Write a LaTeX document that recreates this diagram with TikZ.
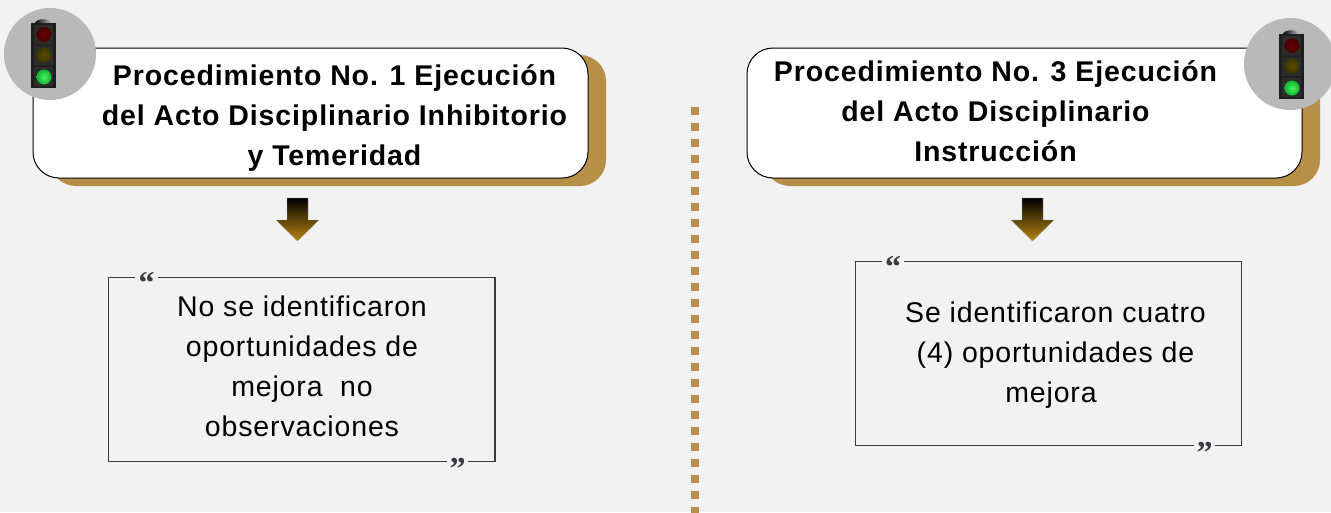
\documentclass[tikz,border=0pt]{standalone}
\usepackage{fontspec}
\setmainfont{Liberation Sans}
\newfontfamily\headfont[LetterSpace=3.1]{Liberation Sans Bold}
\newfontfamily\bodyfont[LetterSpace=3.0]{Liberation Sans}
\newfontfamily\quotefont{Liberation Serif Bold}
\definecolor{bg}{HTML}{F2F2F2}
\definecolor{gold}{HTML}{B88F47}
\definecolor{disc}{HTML}{B9B9B9}
\definecolor{arrowgold}{HTML}{B8860F}
\definecolor{framecol}{HTML}{3A3A42}
\definecolor{postbody}{HTML}{1E1E1E}
\definecolor{postcell}{HTML}{2C2C2C}
\definecolor{greenin}{HTML}{48F068}
\definecolor{greenout}{HTML}{0FB52D}
\tikzset{
  x=1pt,y=-1pt,
  card/.style={draw=black,line width=1pt,fill=white,rounded corners=26pt,minimum width=555pt,minimum height=130pt,inner sep=0pt},
  shadowbox/.style={fill=gold,rounded corners=26pt,minimum width=556pt,minimum height=131pt,inner sep=0pt},
  headtext/.style={align=center,inner sep=0pt,font=\headfont\fontsize{28.5}{40}\selectfont},
  bodytext/.style={align=center,inner sep=0pt,font=\bodyfont\fontsize{28.5}{40}\selectfont},
  disccircle/.style={circle,fill=disc,minimum size=92pt,inner sep=0pt},
  framebox/.style={draw=framecol,line width=1.2pt},
  quotemark/.style={inner sep=0pt,text=framecol,font=\quotefont\fontsize{32}{32}\selectfont,anchor=base},
  downarrow/.style={draw=gray!70,line width=.4pt,top color=black,bottom color=arrowgold,shading angle=0},
  golddot/.style={fill=gold},
}
\newcommand{\lightpost}[2]{%
  \begin{scope}[shift={(#1,#2)}]
    \shade[left color=black,right color=gray!40] (4,5) .. controls (6,0) and (18,0) .. (21,5) -- cycle;
    \fill[postbody] (0,5) rectangle (25,70);
    \fill[postcell] (3,7) rectangle (22,26.5) (3,27.5) rectangle (22,47) (3,48.5) rectangle (22,68);
    \shade[inner color=red!40!black,outer color=red!28!black] (13,16.5) circle (7.5);
    \shade[inner color=yellow!32!black!90!red,outer color=yellow!22!black] (13,37) circle (7.5);
    \shade[inner color=greenin,outer color=greenout] (13,59) circle (7.5);
  \end{scope}}
\begin{document}
\begin{tikzpicture}
\useasboundingbox (0,0) rectangle (1331,512);
\fill[bg] (0,0) rectangle (1331,512);
% left card
\node[shadowbox] (shadowA) at (328,120.5) {};
\node[card] (cardA) at (310.5,113) {};
\node[headtext] (headA) at (334.5,118) {Procedimiento No. 1 Ejecución\\del Acto Disciplinario Inhibitorio\\y Temeridad};
\node[disccircle] (discA) at (50,54) {};
\lightpost{31}{18}
% right card
\node[shadowbox] (shadowB) at (1042,120.5) {};
\node[card] (cardB) at (1024.5,113) {};
\node[headtext] (headB) at (995.5,111) {Procedimiento No. 3 Ejecución\\del Acto Disciplinario\\Instrucción};
\node[disccircle] (discB) at (1290,64) {};
\lightpost{1279}{29}
% arrows
\path[downarrow] (287,198) -- (308,198) -- (308,220) -- (319,220) -- (297.5,241) -- (276,220) -- (287,220) -- cycle;
\path[downarrow] (1022,198) -- (1043,198) -- (1043,220) -- (1054,220) -- (1032.5,241) -- (1011,220) -- (1022,220) -- cycle;
% left frame
\draw[framebox] (135,277.5) -- (108.5,277.5) -- (108.5,461.5) -- (447,461.5);
\draw[framebox] (158,277.5) -- (495,277.5) -- (495,461.5) -- (468,461.5);
\node[quotemark] (openA) at (146.5,293.5) {“};
\node[quotemark] (closeA) at (457.5,479.5) {”};
\node[bodytext] (textA) at (302,366) {No se identificaron\\oportunidades de\\mejora\ \ no\\observaciones};
% right frame
\draw[framebox] (882,261.5) -- (855.5,261.5) -- (855.5,445.5) -- (1194,445.5);
\draw[framebox] (904,261.5) -- (1241.5,261.5) -- (1241.5,445.5) -- (1215,445.5);
\node[quotemark] (openB) at (893,277.5) {“};
\node[quotemark] (closeB) at (1204.5,463.5) {”};
\node[bodytext] (textB) at (1055.5,355) {Se identificaron cuatro\\(4) oportunidades de\\mejora\hspace*{9pt}};
% dotted divider
\foreach \k in {0,...,25}{\path[golddot] (690.5,106.5+16*\k) rectangle +(8,8);}
\end{tikzpicture}
\end{document}
